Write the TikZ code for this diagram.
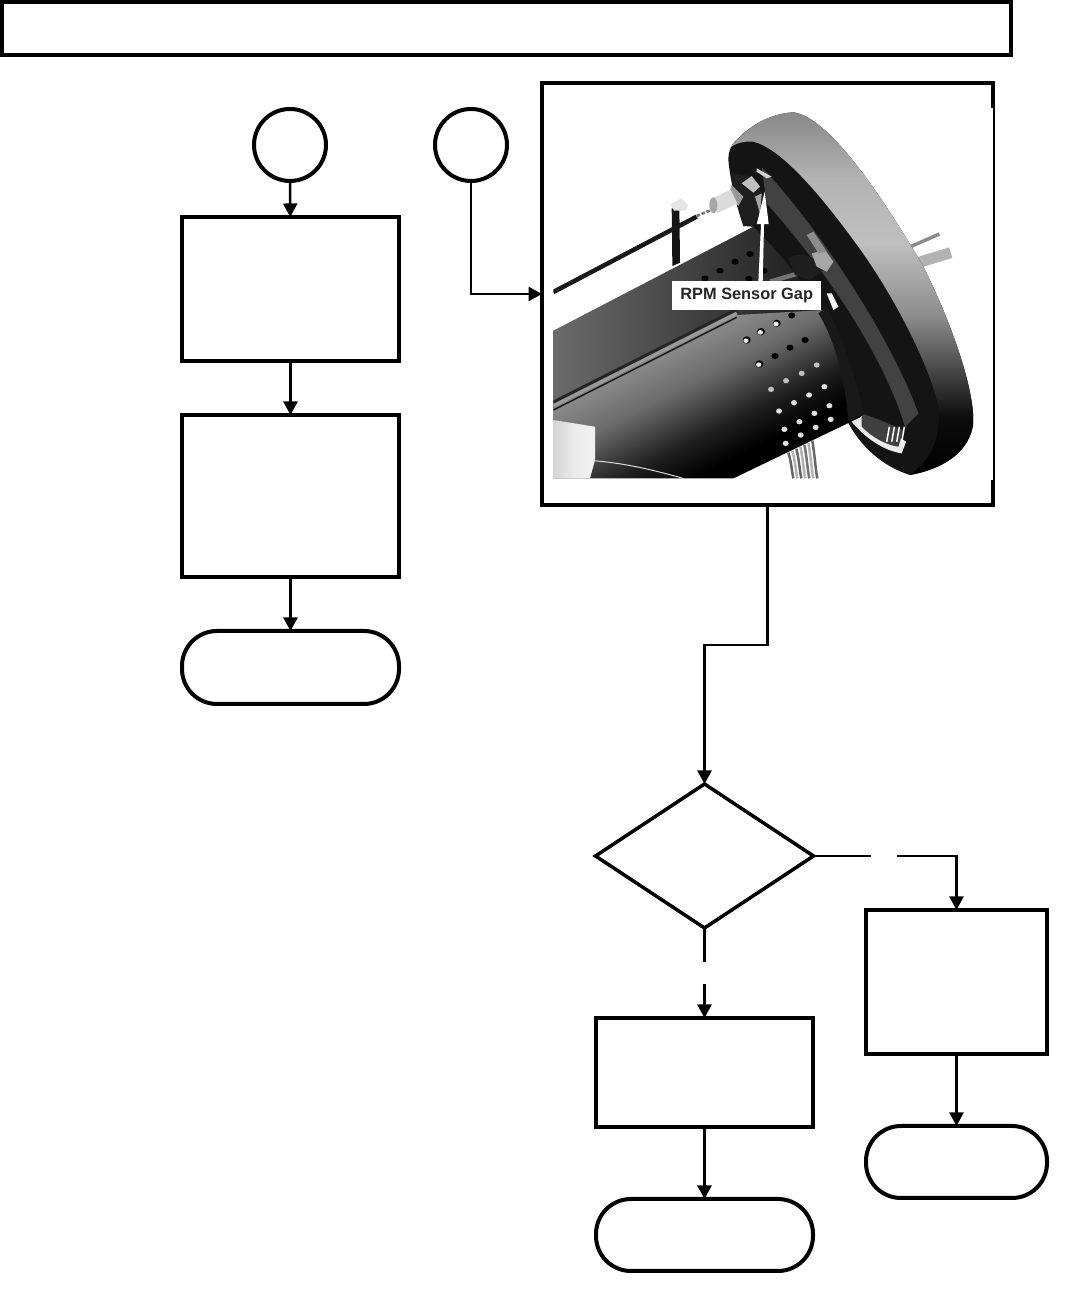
\documentclass[tikz,border=0pt]{standalone}
\usepackage{fontspec}
\setsansfont{Liberation Sans}
\usetikzlibrary{calc,positioning,arrows.meta,shapes.geometric}
\pgfdeclareverticalshading{cylShade}{100bp}{color(0bp)=(black); color(34bp)=(black); color(42bp)=(black!88); color(54bp)=(black!58); color(64bp)=(black!45); color(74bp)=(black!62); color(100bp)=(black!70)}
\pgfdeclareverticalshading{rimShade}{100bp}{color(0bp)=(black); color(25bp)=(black); color(33bp)=(black!95); color(40bp)=(black!70); color(47bp)=(black!45); color(57bp)=(black!25); color(66bp)=(black!30); color(74bp)=(black!45); color(100bp)=(black!50)}
\pgfdeclarehorizontalshading{sleeveShade}{100bp}{color(0bp)=(black!25); color(50bp)=(black!8); color(100bp)=(black!3)}
\begin{document}
\begin{tikzpicture}[
  outl/.style={draw=black, line width=0.08cm, fill=white, inner sep=0pt, outer sep=0pt},
  bx/.style={outl, rectangle},
  term/.style={outl, rectangle, rounded corners=0.7cm},
  conn/.style={outl, circle, minimum size=1.44cm},
  deci/.style={outl, diamond, aspect=1.5, line width=0.07cm, minimum width=4.36cm, minimum height=2.88cm},
  fl/.style={-{Triangle[length=0.27cm, width=0.28cm]}, draw=black, line width=0.05cm},
  pl/.style={draw=black, line width=0.05cm}
]
\useasboundingbox (0,0) rectangle (21.30,25.78);

% ---- title bar
\node[bx, minimum width=20.18cm, minimum height=1.06cm] (title) at (10.13,25.21) {};

% ---- left column
\node[conn] (conA) at (5.80,22.88) {};
\node[conn] (conB) at (9.42,22.88) {};
\node[bx, minimum width=4.34cm, minimum height=2.88cm] (chk)  at (5.81,20.00) {};
\node[bx, minimum width=4.34cm, minimum height=3.24cm] (adj)  at (5.81,15.86) {};
\node[term, minimum width=4.34cm, minimum height=1.46cm] (endA) at (5.81,12.43) {};
\draw[fl] (conA) -- (chk);
\draw[fl] (chk)  -- (adj);
\draw[fl] (adj)  -- (endA);

% ---- photo frame
\node[bx, minimum width=9.02cm, minimum height=8.44cm] (frame) at (15.35,19.90) {};
\draw[white, line width=0.06cm] (19.83,23.62) -- (19.83,16.18);
\draw[fl] (conB) |- (frame.west);

\begin{scope}[shift={(10.80,24.18)}, x=0.00667cm, y=-0.00667cm]
  \clip (40,0) rectangle (1340,1195);
  % rod, post and sensor
  \fill[black!92] (395,385) -- (418,385) -- (420,548) -- (397,558) -- cycle;
  \fill[black!10] (392,372) -- (425,355) -- (445,378) -- (436,392) -- (402,392) -- cycle;
  \draw[black!90, line width=0.09cm] (40,636) -- (470,410);
  \draw[black!55, line width=0.05cm, dash pattern=on 2pt off 1pt] (470,408) -- (525,385);
  % shaft behind the flange
  \draw[black!45, line width=0.07cm] (1100,505) -- (1198,462);
  \draw[black!30, line width=0.22cm] (1120,552) -- (1232,518);
  % flange disc and inside
  \fill[black!92] (565,240) .. controls (565,210) and (575,190) .. (600,170)
    .. controls (640,130) and (700,100) .. (760,97)
    .. controls (860,110) and (1010,320) .. (1150,560)
    .. controls (1250,760) and (1310,960) .. (1298,1040)
    .. controls (1280,1130) and (1190,1170) .. (1110,1185)
    .. controls (1030,1160) and (960,1100) .. (920,1020)
    -- (800,650) -- (640,440) -- (610,438) .. controls (590,380) and (570,300) .. cycle;
  \fill[black!74] (665,262) .. controls (800,400) and (1040,740) .. (1135,1000)
    -- (1095,1040) .. controls (1040,860) and (900,620) .. (680,370) -- cycle;
  \fill[black!8] (925,1012) .. controls (960,1060) and (1020,1110) .. (1085,1120)
    -- (1098,1085) -- (1060,1060) -- (1040,1040) -- (1010,1020) -- (960,1000) -- cycle;
  \fill[black!75] (965,1040) .. controls (1000,1075) and (1040,1095) .. (1075,1100)
    -- (1090,1050) -- (1020,1020) -- (965,1000) -- cycle;
  \foreach \tx in {1040,1055,1070,1085}{\draw[white, line width=0.03cm] (\tx,1085) -- (\tx+8,1040);}
  % barrel, above and below the rail
  \shade[left color=black!58, right color=black!90] (40,752) -- (640,440)
    .. controls (700,500) and (780,590) .. (850,700) -- (850,730) -- (590,730) -- (40,995) -- cycle;
  \shade[shading=cylShade, shading angle=27] (40,985) -- (590,705) -- (850,690)
    .. controls (900,780) and (950,900) .. (972,1000) -- (960,1012) -- (580,1195) -- (40,1195) -- cycle;
  \fill[black!90] (860,680) .. controls (910,780) and (950,900) .. (972,1000)
    -- (925,1025) .. controls (915,900) and (885,780) .. (835,700) -- cycle;
  % rail along the barrel
  \draw[black!85, line width=0.06cm] (40,966) -- (590,688);
  \draw[black!40, line width=0.07cm] (40,978) -- (590,700);
  \draw[black!90, line width=0.03cm] (40,990) -- (590,712);
  \draw[black!15, line width=0.02cm] (160,1142) .. controls (260,1150) and (340,1170) .. (430,1195);
  % holes
  \foreach \hx/\hy in {630/522,585/545,540/572,495/595,672/572,627/596,755/706,795/780,750/803,705/828}
    {\fill[black] (\hx,\hy) ellipse [x radius=11, y radius=9];}
  \foreach \hx/\hy in {710/730,663/755,620/780,658/852}
    {\fill[black] (\hx,\hy) ellipse [x radius=12, y radius=11];
     \fill[black!8] (\hx-2,\hy+2) ellipse [x radius=8, y radius=7];}
  \foreach \hx/\hy in {830/855,785/880,738/902,693/928}
    {\fill[black!25] (\hx,\hy) ellipse [x radius=9, y radius=8];}
  \foreach \hx/\hy in {853/920,807/945,762/968,717/993,868/977,823/1000,778/1025,733/1048,872/1018,827/1042,782/1065,737/1090}
    {\fill[black!12] (\hx,\hy) ellipse [x radius=9, y radius=8];}
  % sleeve and cable
  \shade[shading=sleeveShade] (40,1020) -- (165,1040) -- (165,1140) -- (150,1195) -- (40,1195) -- cycle;
  \foreach \cx/\cs in {0/black!60,12/black!30,24/black!60,36/black!30,48/black!55,60/black!30,72/black!60}
    {\draw[\cs, line width=0.05cm] (745+\cx,1118-\cx/2) .. controls (755+\cx,1150) and (755+\cx,1175) .. (760+\cx,1195);}
  % flange rim
  \shade[shading=rimShade] (568,205) .. controls (620,140) and (690,100) .. (760,97)
    .. controls (860,110) and (1010,320) .. (1150,560)
    .. controls (1250,760) and (1310,960) .. (1298,1040)
    .. controls (1280,1130) and (1190,1170) .. (1110,1185)
    .. controls (1170,1140) and (1205,1080) .. (1195,980)
    .. controls (1170,860) and (1060,640) .. (940,480)
    .. controls (830,330) and (720,205) .. (640,185)
    .. controls (610,183) and (585,190) .. cycle;
  % bracket with sensor head
  \fill[black!88] (572,280) -- (640,290) -- (672,350) -- (640,440) -- (610,435) -- cycle;
  \fill[black!25] (605,310) -- (635,288) -- (660,320) -- (640,338) -- cycle;
  \fill[black!35] (645,350) -- (665,340) -- (660,400) -- cycle;
  \fill[black!18] (650,265) -- (695,290) -- (680,295) -- (650,275) -- cycle;
  \fill[black!40] (575,315) -- (610,350) -- (595,378) -- (565,345) -- cycle;
  \draw[black!14, line width=0.31cm] (522,378) -- (582,350);
  \fill[black!35] (520,376) ellipse [x radius=12, y radius=24];
  % clamp on the flange face
  \draw[black!55, line width=0.09cm] (690,605) -- (810,570);
  \fill[black!88] (745,535) .. controls (780,510) and (830,530) .. (850,570) -- (810,600) -- (765,585) -- cycle;
  \fill[black!35] (815,520) -- (855,510) -- (880,545) -- (860,575) -- (830,560) -- cycle;
  \fill[black!45] (800,465) -- (820,455) -- (860,515) -- (835,520) -- cycle;
  \fill[black!5] (860,640) -- (875,640) -- (895,680) -- (880,690) -- cycle;
  % gap pointer and label
  \fill[white] (655,605) -- (663,432) -- (650,432) -- (674,335) -- (686,432) -- (672,432) -- (668,605) -- cycle;
  \node[fill=white, font=\sffamily\bfseries\fontsize{9.3}{11}\selectfont, text=black!85,
        minimum width=2.99cm, minimum height=0.57cm, inner sep=0pt] (gapLbl) at (620,647) {RPM Sensor Gap};
\end{scope}

% ---- decision and branches
\coordinate (bendF) at (15.35,12.88);
\node[deci] (dia) at (14.09,8.66) {};
\draw[fl] (frame.south) -- (bendF) -| (dia.north);

\node[bx, minimum width=4.34cm, minimum height=2.18cm] (fix) at (14.09,4.33) {};
\node[term, minimum width=4.34cm, minimum height=1.44cm] (endB) at (14.09,1.08) {};
\node[bx, minimum width=3.62cm, minimum height=2.88cm] (rep) at (19.13,6.14) {};
\node[term, minimum width=3.62cm, minimum height=1.44cm] (endC) at (19.13,2.54) {};

\coordinate (gapS1) at (14.09,6.54);
\coordinate (gapS2) at (14.09,6.10);
\coordinate (gapE1) at (17.42,8.66);
\coordinate (gapE2) at (17.94,8.66);
\draw[pl] (dia.south) -- (gapS1);
\draw[fl] (gapS2) -- (fix);
\draw[pl] (dia.east) -- (gapE1);
\draw[fl] (gapE2) -| (rep.north);
\draw[fl] (fix) -- (endB);
\draw[fl] (rep) -- (endC);
\end{tikzpicture}
\end{document}
